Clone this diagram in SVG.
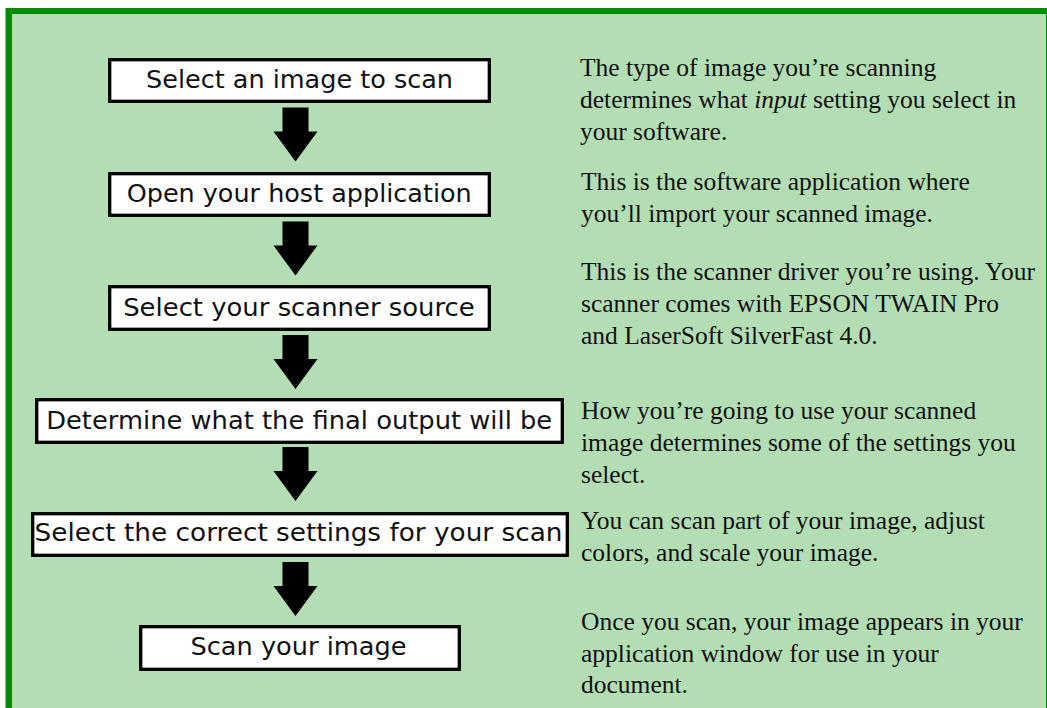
<svg xmlns="http://www.w3.org/2000/svg" width="1047" height="708" viewBox="0 0 1047 708">
<style>
.box{fill:#fff;stroke:#000;stroke-width:3.3}
.lbl{font-family:"DejaVu Sans","Liberation Sans",Arial,sans-serif;font-size:25.5px;fill:#111}
.note{font-family:"Liberation Serif","Times New Roman",serif;font-size:25.5px;fill:#111}
.arrow{fill:#000}
</style>
<defs>
<path id="blockArrow" d="M-13,0 H13 V24 H22 L0,54 L-22,24 H-13 Z"/>
</defs>
<rect x="0" y="0" width="1047" height="708" fill="#fff"/>
<rect x="5.5" y="8" width="1050" height="710" fill="#008c00"/>
<rect x="12" y="14" width="1034" height="700" fill="#b3ddb3"/>

<g id="connectors" class="arrow">
<use href="#blockArrow" transform="translate(295.5,107.5)"/>
<use href="#blockArrow" transform="translate(295.5,221.5)"/>
<use href="#blockArrow" transform="translate(295.5,335)"/>
<use href="#blockArrow" transform="translate(295.5,447)"/>
<use href="#blockArrow" transform="translate(295.5,562)"/>
</g>

<g id="node-select-image">
<rect class="box" x="109.7" y="59.7" width="379.6" height="41.6"/>
<text class="lbl" x="146" y="87.5" textLength="307" lengthAdjust="spacingAndGlyphs">Select an image to scan</text>
</g>
<g id="node-open-host">
<rect class="box" x="109.7" y="173.7" width="379.6" height="41.6"/>
<text class="lbl" x="126.7" y="201.5" textLength="345" lengthAdjust="spacingAndGlyphs">Open your host application</text>
</g>
<g id="node-scanner-source">
<rect class="box" x="109.7" y="286.7" width="379.6" height="42.6"/>
<text class="lbl" x="123.2" y="316" textLength="351.5" lengthAdjust="spacingAndGlyphs">Select your scanner source</text>
</g>
<g id="node-final-output">
<rect class="box" x="36.7" y="399.7" width="525.6" height="42.6"/>
<text class="lbl" x="46.2" y="429" textLength="506" lengthAdjust="spacingAndGlyphs">Determine what the final output will be</text>
</g>
<g id="node-settings">
<rect class="box" x="32.7" y="513.7" width="534.6" height="41.6"/>
<text class="lbl" x="34.5" y="540.5" textLength="528" lengthAdjust="spacingAndGlyphs">Select the correct settings for your scan</text>
</g>
<g id="node-scan">
<rect class="box" x="140.7" y="626.7" width="318.6" height="42.6"/>
<text class="lbl" x="190.5" y="655" textLength="216" lengthAdjust="spacingAndGlyphs">Scan your image</text>
</g>

<g id="notes" class="note">
<text x="580" y="76">The type of image you’re scanning</text>
<text x="580" y="108.3">determines what <tspan font-style="italic">input</tspan> setting you select in</text>
<text x="580" y="140">your software.</text>

<text x="581" y="190">This is the software application where</text>
<text x="581" y="222.3">you’ll import your scanned image.</text>

<text x="581" y="280">This is the scanner driver you’re using. Your</text>
<text x="581" y="311.7">scanner comes with EPSON TWAIN Pro</text>
<text x="581" y="344">and LaserSoft SilverFast 4.0.</text>

<text x="581" y="419.3">How you’re going to use your scanned</text>
<text x="581" y="451">image determines some of the settings you</text>
<text x="581" y="483">select.</text>

<text x="581" y="529">You can scan part of your image, adjust</text>
<text x="581" y="561">colors, and scale your image.</text>

<text x="581" y="630">Once you scan, your image appears in your</text>
<text x="581" y="661.5">application window for use in your</text>
<text x="581" y="693">document.</text>
</g>
</svg>
